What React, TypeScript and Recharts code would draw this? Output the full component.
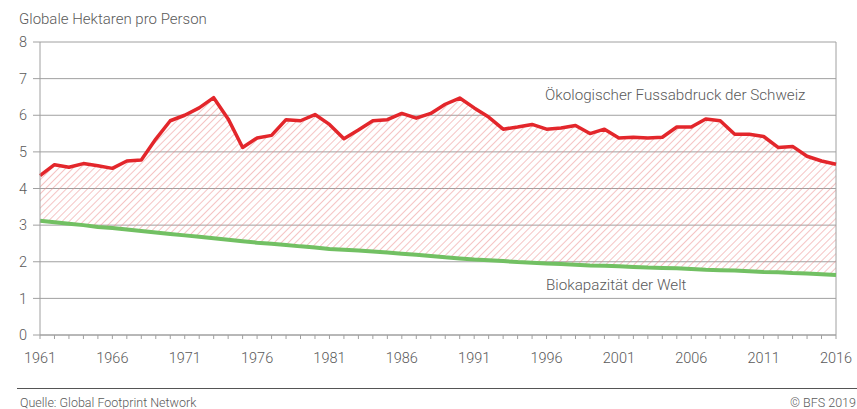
import type { JSX } from 'react';
import { ComposedChart, Area, Line, XAxis, YAxis, CartesianGrid, ReferenceLine } from 'recharts';

const years: number[] = [];
for (let y = 1961; y <= 2016; y++) years.push(y);

const swissFootprint = [
    4.35, 4.65, 4.58, 4.68, 4.62, 4.55, 4.75, 4.78, 5.35, 5.85,
    6.0, 6.2, 6.48, 5.9, 5.12, 5.38, 5.45, 5.88, 5.85, 6.02,
    5.75, 5.36, 5.6, 5.85, 5.88, 6.05, 5.92, 6.05, 6.3, 6.47,
    6.2, 5.95, 5.62, 5.68, 5.75, 5.62, 5.65, 5.72, 5.5, 5.62,
    5.38, 5.4, 5.38, 5.4, 5.68, 5.68, 5.9, 5.85, 5.48, 5.48,
    5.42, 5.12, 5.15, 4.88, 4.75, 4.66,
];

const worldBiocapacity = [
    3.12, 3.08, 3.04, 3.0, 2.95, 2.92, 2.88, 2.84, 2.8, 2.76,
    2.72, 2.68, 2.64, 2.6, 2.56, 2.52, 2.49, 2.46, 2.42, 2.39,
    2.35, 2.33, 2.31, 2.28, 2.25, 2.22, 2.19, 2.16, 2.12, 2.09,
    2.06, 2.04, 2.02, 1.99, 1.97, 1.95, 1.94, 1.92, 1.9, 1.89,
    1.88, 1.86, 1.84, 1.83, 1.82, 1.8, 1.78, 1.77, 1.76, 1.74,
    1.72, 1.71, 1.69, 1.68, 1.66, 1.64,
];

const yTicks = [0, 1, 2, 3, 4, 5, 6, 7, 8];

const data = years.map((year, i) => ({
    year,
    swiss: swissFootprint[i],
    bio: worldBiocapacity[i],
    gap: swissFootprint[i] - worldBiocapacity[i],
}));

const RED = '#e3262b';
const GREEN = '#72c063';
const GRID = '#a0a0a0';
const TEXT = '#5a5a5a';
const FONT = 'Roboto, "Noto Sans", sans-serif';

export default function App(): JSX.Element {
    return (
        <div style={{ position: 'absolute', left: 0, top: 0, width: 857, height: 409, fontFamily: FONT, background: '#fff' }}>
            <div style={{ position: 'absolute', left: 19, top: 10, fontSize: 15, color: TEXT, fontWeight: 300, whiteSpace: 'nowrap' }}>
                Globale Hektaren pro Person
            </div>
            <ComposedChart
                width={857}
                height={409}
                data={data}
                margin={{ top: 42, right: 21, bottom: 44, left: 0 }}
            >
                <defs>
                    <pattern id="hatch" width="5" height="5" patternUnits="userSpaceOnUse" patternTransform="rotate(45)">
                        <line x1="0" y1="0" x2="0" y2="5" stroke="#ec8a8a" strokeWidth="1" />
                    </pattern>
                </defs>
                <CartesianGrid vertical={false} stroke={GRID} strokeWidth={1} />
                <XAxis
                    dataKey="year"
                    type="number"
                    domain={[1961, 2016]}
                    ticks={years}
                    interval={0}
                    tickFormatter={(v: number) => ((v - 1961) % 5 === 0 ? String(v) : '')}
                    tickSize={4}
                    tickMargin={14}
                    stroke={GRID}
                    tick={{ fill: TEXT, fontSize: 14.5, fontWeight: 300 }}
                />
                <YAxis
                    domain={[0, 8]}
                    ticks={yTicks}
                    interval={0}
                    width={40}
                    tickSize={7}
                    tickMargin={6}
                    stroke={GRID}
                    tick={{ fill: TEXT, fontSize: 14.5, fontWeight: 300 }}
                />
                <ReferenceLine x={2016} stroke={GRID} />
                <Area dataKey="bio" stackId="s" fill="none" stroke="none" isAnimationActive={false} />
                <Area dataKey="gap" stackId="s" fill="url(#hatch)" fillOpacity={1} stroke="none" isAnimationActive={false} />
                <Line dataKey="bio" stroke={GREEN} strokeWidth={4} dot={false} isAnimationActive={false} />
                <Line dataKey="swiss" stroke={RED} strokeWidth={3.5} strokeLinejoin="round" dot={false} isAnimationActive={false} />
            </ComposedChart>
            <div style={{ position: 'absolute', left: 545, top: 86, fontSize: 15.2, color: TEXT, fontWeight: 300, whiteSpace: 'nowrap' }}>
                Ökologischer Fussabdruck der Schweiz
            </div>
            <div style={{ position: 'absolute', left: 546, top: 276, fontSize: 15.2, color: TEXT, fontWeight: 300, whiteSpace: 'nowrap' }}>
                Biokapazität der Welt
            </div>
            <div style={{ position: 'absolute', left: 17, top: 388, width: 840, height: 0, borderTop: '1.5px solid #555' }} />
            <div style={{ position: 'absolute', left: 20, top: 395, fontSize: 12.5, color: TEXT, fontWeight: 300, whiteSpace: 'nowrap' }}>
                Quelle: Global Footprint Network
            </div>
            <div style={{ position: 'absolute', left: 790, top: 395, fontSize: 12.5, color: TEXT, fontWeight: 300, whiteSpace: 'nowrap' }}>
                © BFS 2019
            </div>
        </div>
    );
}
